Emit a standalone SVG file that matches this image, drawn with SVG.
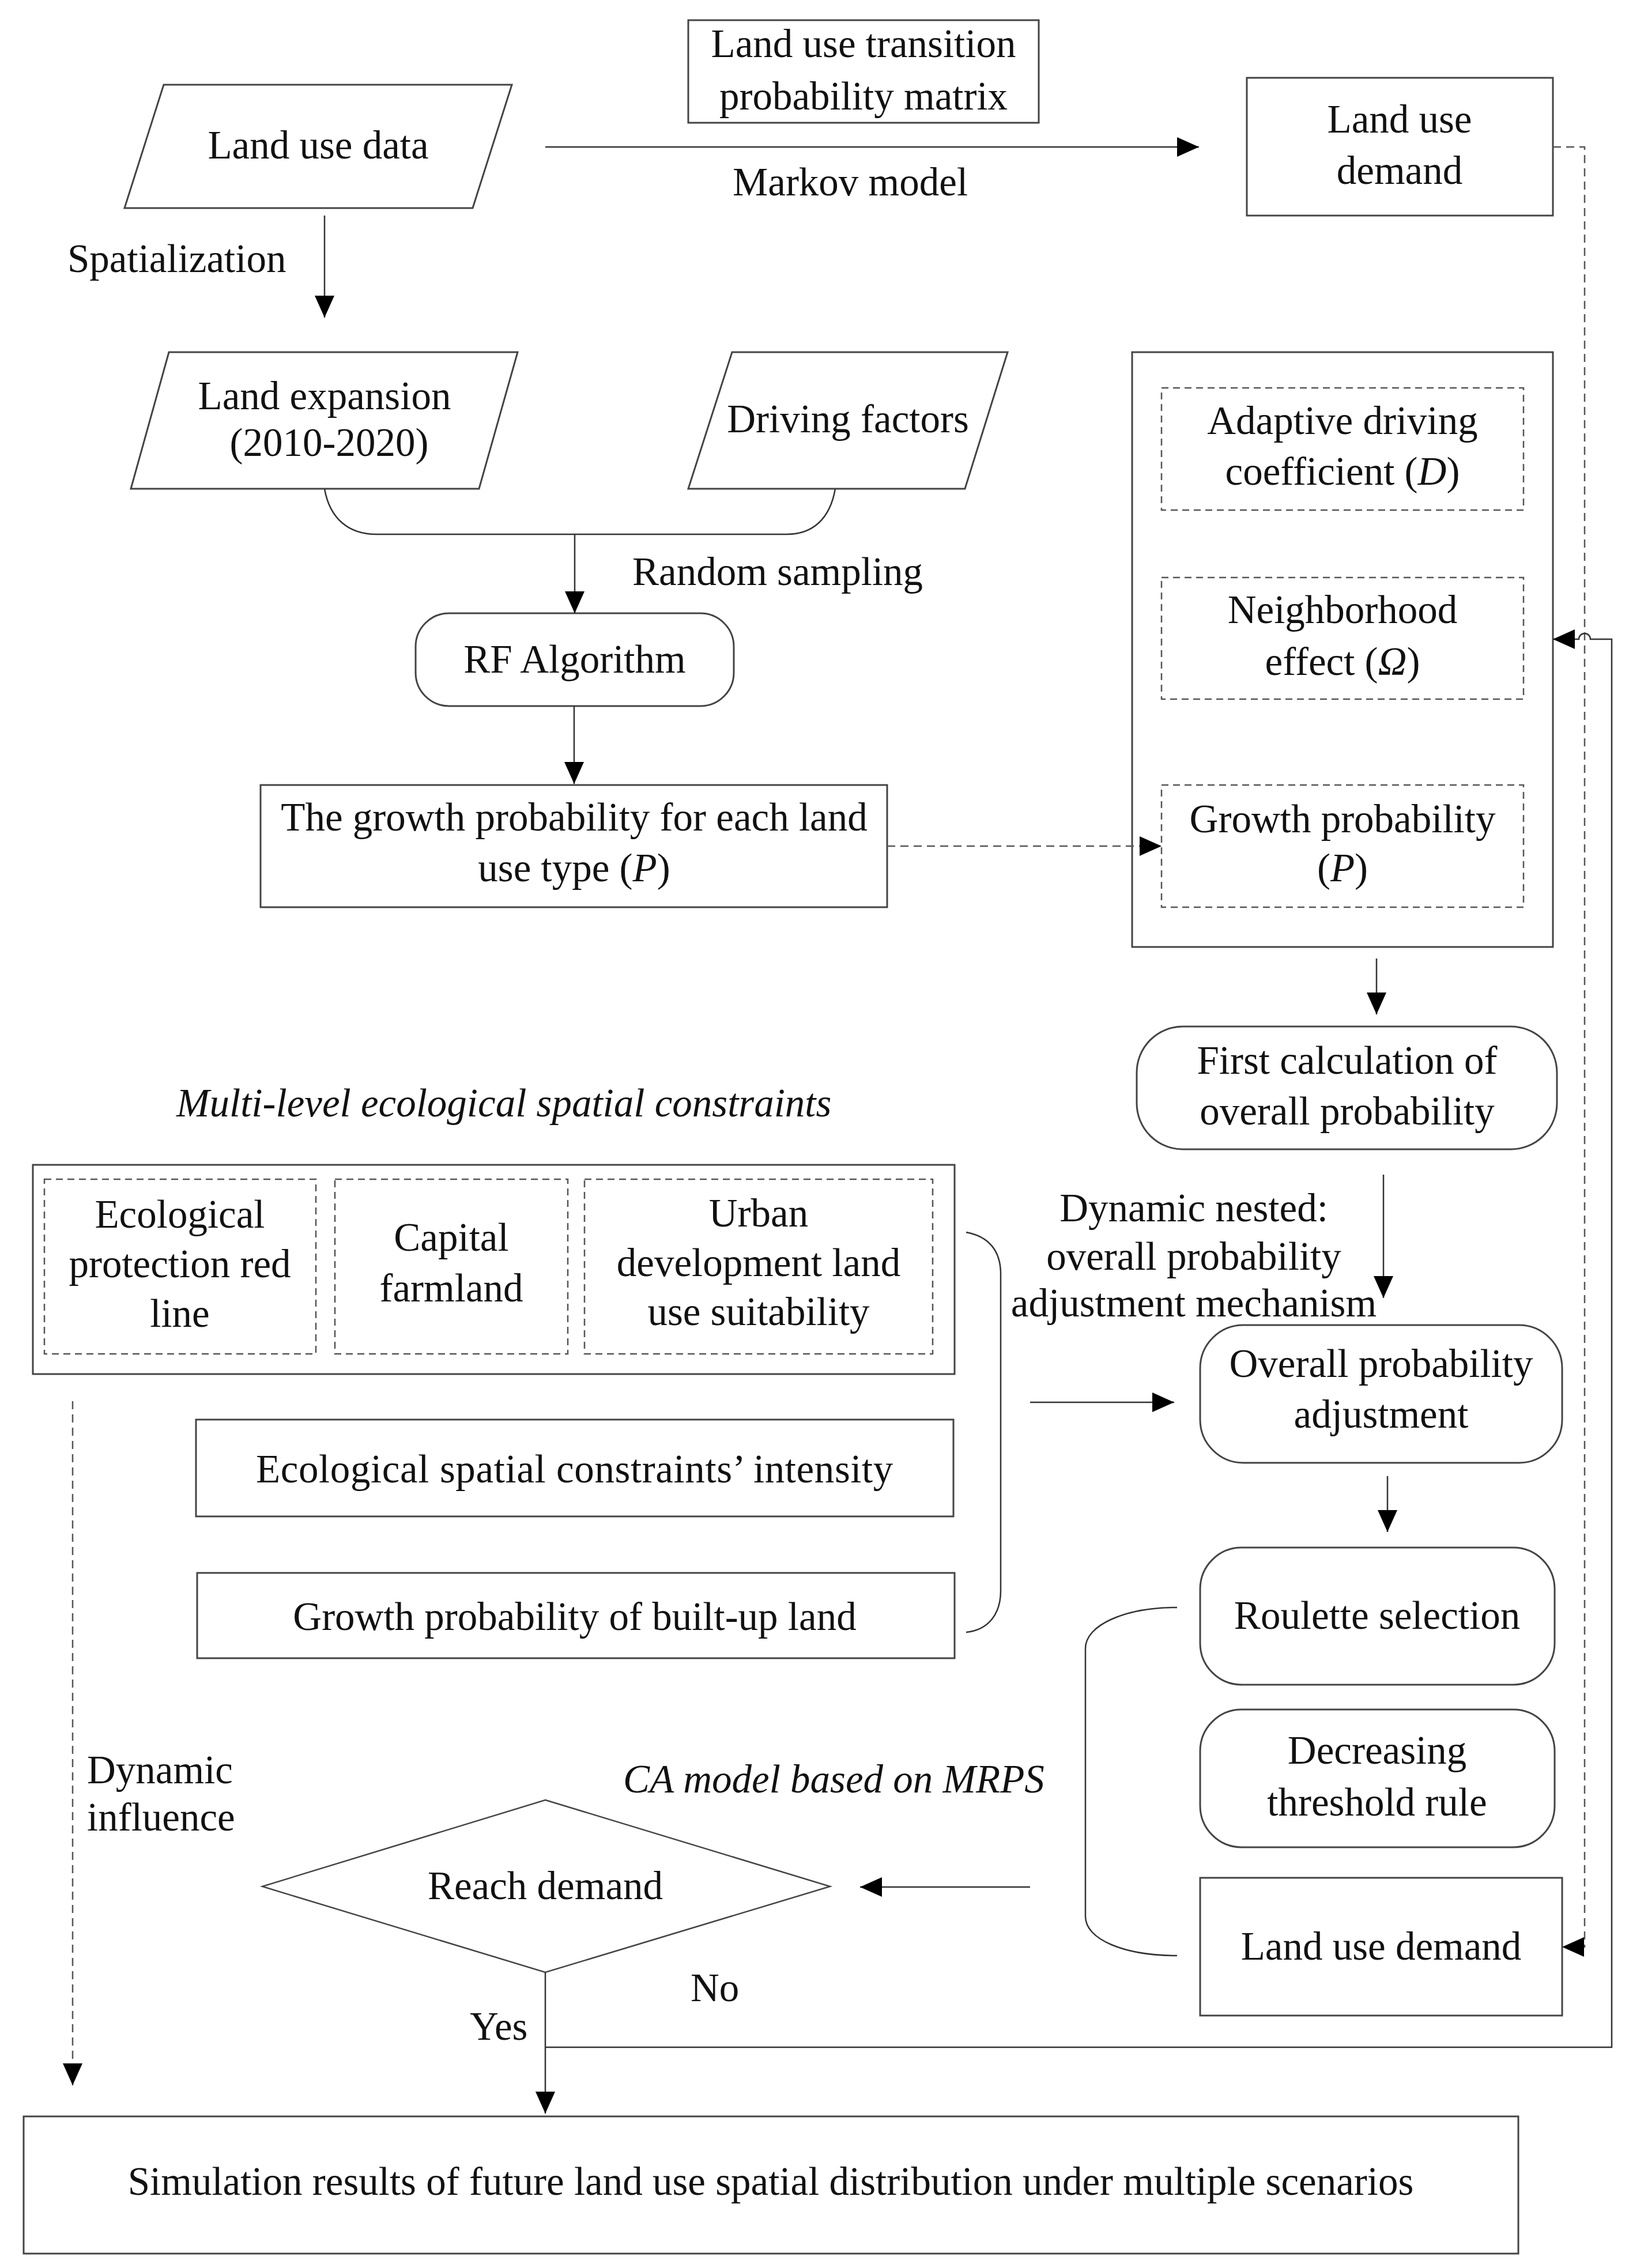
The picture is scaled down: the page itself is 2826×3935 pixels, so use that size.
<svg xmlns="http://www.w3.org/2000/svg" width="2826" height="3935" viewBox="0 0 2826 3935">
<style>
text{font-family:"Liberation Serif","Times New Roman",serif;font-size:69px;fill:#111;}
.c{text-anchor:middle;}
.it{font-style:italic;}
.box{fill:#fff;stroke:#444;stroke-width:3;}
.dbox{fill:none;stroke:#555;stroke-width:2.5;stroke-dasharray:12,8;}
.ln{fill:none;stroke:#333;stroke-width:2.5;}
.dln{fill:none;stroke:#555;stroke-width:2.5;stroke-dasharray:14,9;}
</style>
<defs>
<marker id="ah" markerUnits="userSpaceOnUse" markerWidth="38" markerHeight="34" refX="38" refY="17" orient="auto">
<path d="M0,0 L38,17 L0,34 z" fill="#000" stroke="none"/>
</marker>
</defs>
<rect width="2826" height="3935" fill="#fff"/>

<g id="transition-matrix">
<rect class="box" x="1194" y="35" width="608" height="178"/>
<text class="c" x="1498" y="99">Land use transition</text>
<text class="c" x="1498" y="190">probability matrix</text>
</g>

<g id="land-use-data">
<polygon class="box" points="284,147 888,147 820,361 216,361"/>
<text class="c" x="552" y="275">Land use data</text>
</g>

<g id="labels-top">
<text class="c" x="1475" y="339">Markov model</text>
<text x="117" y="472">Spatialization</text>
<text x="1097" y="1015">Random sampling</text>
</g>

<g id="land-use-demand-top">
<rect class="box" x="2163" y="135" width="531" height="239"/>
<text class="c" x="2428" y="230">Land use</text>
<text class="c" x="2428" y="319">demand</text>
</g>

<g id="land-expansion">
<polygon class="box" points="293,611 898,611 831,848 227,848"/>
<text class="c" x="563" y="710">Land expansion</text>
<text class="c" x="571" y="791">(2010-2020)</text>
</g>

<g id="driving-factors">
<polygon class="box" points="1270,611 1748,611 1674,848 1194,848"/>
<text class="c" x="1471" y="750">Driving factors</text>
</g>

<g id="rf-algorithm">
<rect class="box" x="721" y="1064" width="552" height="161" rx="58" ry="58"/>
<text class="c" x="997" y="1167">RF Algorithm</text>
</g>

<g id="growth-probability-each">
<rect class="box" x="452" y="1362" width="1087" height="212"/>
<text class="c" x="996" y="1441">The growth probability for each land</text>
<text class="c" x="996" y="1529">use type (<tspan class="it">P</tspan>)</text>
</g>

<g id="probability-components">
<rect class="box" x="1964" y="611" width="730" height="1032"/>
<rect class="dbox" x="2015" y="673" width="628" height="212"/>
<text class="c" x="2329" y="753">Adaptive driving</text>
<text class="c" x="2329" y="841">coefficient (<tspan class="it">D</tspan>)</text>
<rect class="dbox" x="2015" y="1002" width="628" height="211"/>
<text class="c" x="2329" y="1081">Neighborhood</text>
<text class="c" x="2329" y="1171">effect (<tspan class="it">Ω</tspan>)</text>
<rect class="dbox" x="2015" y="1362" width="628" height="212"/>
<text class="c" x="2329" y="1444">Growth probability</text>
<text class="c" x="2329" y="1529">(<tspan class="it">P</tspan>)</text>
</g>

<g id="first-calculation">
<rect class="box" x="1972" y="1781" width="729" height="213" rx="80" ry="80"/>
<text class="c" x="2337" y="1863">First calculation of</text>
<text class="c" x="2337" y="1951">overall probability</text>
</g>

<g id="dynamic-nested-label">
<text class="c" x="2071" y="2119">Dynamic nested:</text>
<text class="c" x="2071" y="2203">overall probability</text>
<text class="c" x="2071" y="2284">adjustment mechanism</text>
</g>

<g id="overall-adjustment">
<rect class="box" x="2082" y="2299" width="628" height="239" rx="75" ry="75"/>
<text class="c" x="2396" y="2389">Overall probability</text>
<text class="c" x="2396" y="2477">adjustment</text>
</g>

<g id="roulette">
<rect class="box" x="2082" y="2685" width="615" height="238" rx="72" ry="72"/>
<text class="c" x="2389" y="2826">Roulette selection</text>
</g>

<g id="decreasing-threshold">
<rect class="box" x="2082" y="2966" width="615" height="239" rx="72" ry="72"/>
<text class="c" x="2389" y="3060">Decreasing</text>
<text class="c" x="2389" y="3150">threshold rule</text>
</g>

<g id="land-use-demand-bottom">
<rect class="box" x="2082" y="3258" width="628" height="239"/>
<text class="c" x="2396" y="3400">Land use demand</text>
</g>

<g id="constraints">
<text class="it" x="306" y="1937">Multi-level ecological spatial constraints</text>
<rect class="box" x="57" y="2021" width="1599" height="363"/>
<rect class="dbox" x="77" y="2046" width="471" height="303"/>
<text class="c" x="312" y="2130">Ecological</text>
<text class="c" x="312" y="2216">protection red</text>
<text class="c" x="312" y="2302">line</text>
<rect class="dbox" x="581" y="2046" width="404" height="303"/>
<text class="c" x="783" y="2170">Capital</text>
<text class="c" x="783" y="2258">farmland</text>
<rect class="dbox" x="1014" y="2046" width="604" height="303"/>
<text class="c" x="1316" y="2128">Urban</text>
<text class="c" x="1316" y="2214">development land</text>
<text class="c" x="1316" y="2299">use suitability</text>
</g>

<g id="constraints-intensity">
<rect class="box" x="340" y="2463" width="1314" height="168"/>
<text class="c" x="997" y="2572" style="letter-spacing:0.6px">Ecological spatial constraints’ intensity</text>
</g>

<g id="built-up-growth">
<rect class="box" x="342" y="2729" width="1314" height="148"/>
<text class="c" x="997" y="2828">Growth probability of built-up land</text>
</g>

<g id="labels-bottom">
<text x="151" y="3094">Dynamic</text>
<text x="151" y="3176">influence</text>
<text class="it" x="1081" y="3110">CA model based on MRPS</text>
<text x="1198" y="3472">No</text>
<text x="815" y="3539">Yes</text>
</g>

<g id="reach-demand">
<polygon class="box" style="stroke-width:2.5" points="946,3123 1440,3273 946,3422 455,3273"/>
<text class="c" x="946" y="3295">Reach demand</text>
</g>

<g id="simulation-results">
<rect class="box" x="41" y="3672" width="2593" height="238"/>
<text class="c" x="1337" y="3808">Simulation results of future land use spatial distribution under multiple scenarios</text>
</g>

<g id="connectors">
<line class="ln" x1="946" y1="255" x2="2080" y2="255" marker-end="url(#ah)"/>
<line class="ln" x1="563" y1="374" x2="563" y2="551" marker-end="url(#ah)"/>
<path class="dln" d="M2694,255 H2749 V3378 H2710" marker-end="url(#ah)"/>
<path class="ln" d="M563,848 C572,900 605,927 653,927 L1365,927 C1410,927 1440,900 1449,848"/>
<line class="ln" x1="997" y1="927" x2="997" y2="1064" marker-end="url(#ah)"/>
<line class="ln" x1="996" y1="1225" x2="996" y2="1360" marker-end="url(#ah)"/>
<line class="dln" x1="1539" y1="1468" x2="2015" y2="1468" marker-end="url(#ah)"/>
<line class="ln" x1="2388" y1="1663" x2="2388" y2="1760" marker-end="url(#ah)"/>
<line class="ln" x1="2400" y1="2038" x2="2400" y2="2252" marker-end="url(#ah)"/>
<path class="ln" d="M1676,2138 C1715,2145 1736,2170 1736,2210 L1736,2760 C1736,2800 1715,2828 1676,2832"/>
<line class="ln" x1="1787" y1="2433" x2="2037" y2="2433" marker-end="url(#ah)"/>
<line class="ln" x1="2407" y1="2561" x2="2407" y2="2658" marker-end="url(#ah)"/>
<path class="ln" d="M2042,2789 C1950,2789 1883,2820 1883,2860 L1883,3325 C1883,3365 1950,3393 2042,3393"/>
<line class="ln" x1="1787" y1="3274" x2="1492" y2="3274" marker-end="url(#ah)"/>
<line class="dln" x1="126" y1="2431" x2="126" y2="3618" marker-end="url(#ah)"/>
<line class="ln" x1="946" y1="3422" x2="946" y2="3667" marker-end="url(#ah)"/>
<path class="ln" d="M946,3552 H2796 V1109 H2759 A10,10 0 0 0 2739,1109 H2694" marker-end="url(#ah)"/>
</g>
</svg>
